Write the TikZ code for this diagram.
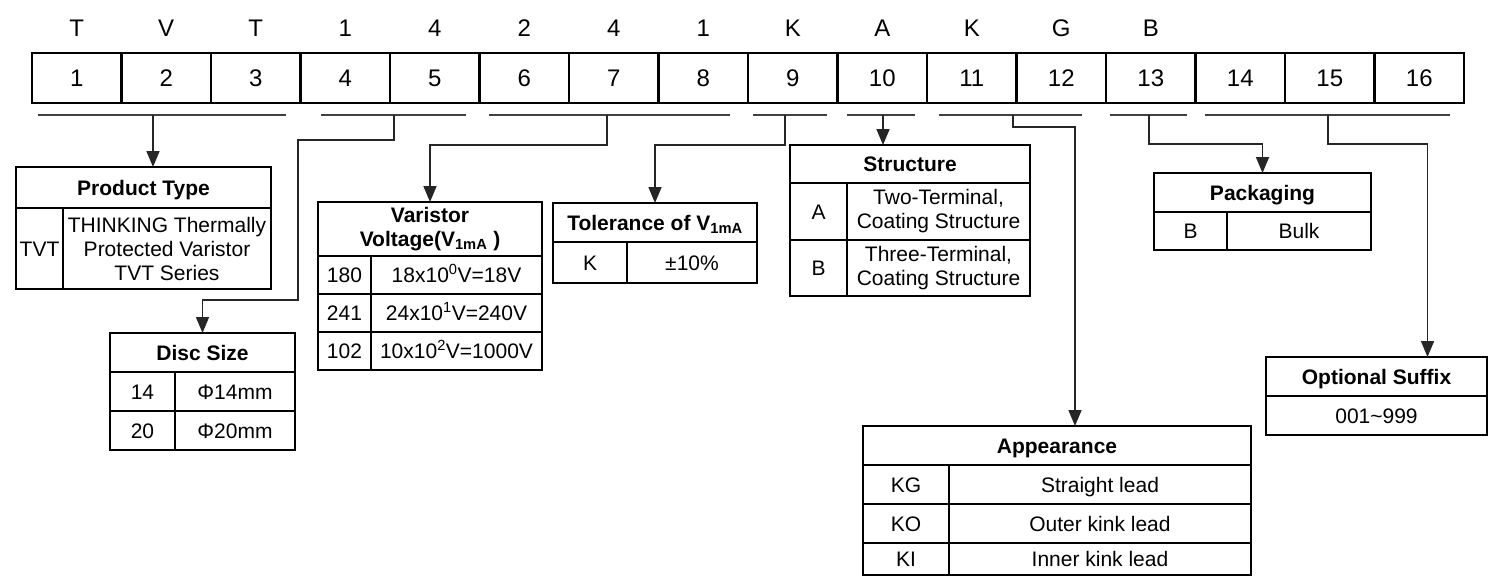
\documentclass[tikz,border=0pt]{standalone}
\usepackage{fontspec}
\setmainfont{Liberation Sans}
\usetikzlibrary{arrows.meta,positioning}
\begin{document}
\begin{tikzpicture}[x=1pt, y=-1pt, >={Triangle[length=16pt,width=13pt]}, box/.style={draw,line width=2.2pt,anchor=north west,inner sep=0pt,outer sep=0pt,align=center,font=\fontsize{21}{24}\selectfont}, cell/.style={box,text height=15pt,text depth=0pt}, head/.style={cell,font=\bfseries\fontsize{21}{24}\selectfont}, code/.style={cell,line width=2.4pt,minimum width=89.5pt,minimum height=50pt,text height=17pt,font=\fontsize{24}{28}\selectfont}, letter/.style={inner sep=0pt,text height=17pt,text depth=0pt,font=\fontsize{24}{28}\selectfont}, uline/.style={line width=2.6pt,black!75}, conn/.style={line width=1.7pt,black!85}]
\useasboundingbox (0,0) rectangle (1491,576);
\foreach \i in {1,...,16}
  \node[code] (c\i) at ({32+(\i-1)*89.5},53) {\i};
\foreach \l [count=\i] in {T,V,T,1,4,2,4,1,K,A,K,G,B}
  \node[letter] (l\i) at ({32+(\i-0.5)*89.5},28) {\l};
\draw[uline] (38,115) -- (286,115);
\draw[uline] (321,115) -- (466,115);
\draw[uline] (489,115) -- (730,115);
\draw[uline] (753,115) -- (827,115);
\draw[uline] (847,115) -- (915,115);
\draw[uline] (939,115) -- (1082,115);
\draw[uline] (1110,115) -- (1187,115);
\draw[uline] (1205,115) -- (1450,115);
\coordinate (u1) at (153,115);
\coordinate (u2) at (394,115);
\coordinate (u3) at (607,115);
\coordinate (u4) at (785,115);
\coordinate (u5) at (883,115);
\coordinate (u6) at (1013,115);
\coordinate (u7) at (1149,115);
\coordinate (u8) at (1328,115);
\node[head,minimum width=255pt,minimum height=41pt] (ptype) at (16,167) {Product Type};
\node[cell,minimum width=47pt,minimum height=81pt] (ptk) at (16,208) {TVT};
\node[box,minimum width=208pt,minimum height=81pt] (ptv) at (63,208) {THINKING Thermally\\Protected Varistor\\TVT Series};
\node[head,minimum width=185pt,minimum height=39pt] (disc) at (110,333) {Disc Size};
\node[cell,minimum width=65pt,minimum height=39pt] (d14) at (110,372) {14};
\node[cell,minimum width=120pt,minimum height=39pt] (d14v) at (175,372) {Φ14mm};
\node[cell,minimum width=65pt,minimum height=39pt] (d20) at (110,411) {20};
\node[cell,minimum width=120pt,minimum height=39pt] (d20v) at (175,411) {Φ20mm};
\node[box,minimum width=224pt,minimum height=54pt,font=\bfseries\fontsize{21}{24}\selectfont] (volt) at (318,202) {Varistor\\Voltage(V\textsubscript{1mA} )};
\node[cell,minimum width=53pt,minimum height=38pt] (v180) at (318,256) {180};
\node[cell,minimum width=171pt,minimum height=38pt] (v180v) at (371,256) {18x10\textsuperscript{0}V=18V};
\node[cell,minimum width=53pt,minimum height=38pt] (v241) at (318,294) {241};
\node[cell,minimum width=171pt,minimum height=38pt] (v241v) at (371,294) {24x10\textsuperscript{1}V=240V};
\node[cell,minimum width=53pt,minimum height=38pt] (v102) at (318,332) {102};
\node[cell,minimum width=171pt,minimum height=38pt] (v102v) at (371,332) {10x10\textsuperscript{2}V=1000V};
\node[head,minimum width=204pt,minimum height=39pt] (tol) at (553,203) {Tolerance of V\textsubscript{1mA}};
\node[cell,minimum width=74pt,minimum height=41pt] (tk) at (553,242) {K};
\node[cell,minimum width=130pt,minimum height=41pt] (tkv) at (627,242) {±10\%};
\node[head,minimum width=240pt,minimum height=38pt] (struct) at (790,145) {Structure};
\node[cell,minimum width=57pt,minimum height=57pt] (sa) at (790,183) {A};
\node[box,minimum width=183pt,minimum height=57pt] (sav) at (847,183) {Two-Terminal,\\Coating Structure};
\node[cell,minimum width=57pt,minimum height=56pt] (sb) at (790,240) {B};
\node[box,minimum width=183pt,minimum height=56pt] (sbv) at (847,240) {Three-Terminal,\\Coating Structure};
\node[head,minimum width=217pt,minimum height=39pt] (pack) at (1154,173) {Packaging};
\node[cell,minimum width=73pt,minimum height=38pt] (pb) at (1154,212) {B};
\node[cell,minimum width=144pt,minimum height=38pt] (pbv) at (1227,212) {Bulk};
\node[head,minimum width=221pt,minimum height=39pt] (suffix) at (1266,357) {Optional Suffix};
\node[cell,minimum width=221pt,minimum height=39pt] (sfx) at (1266,396) {001\textasciitilde 999};
\node[head,minimum width=388pt,minimum height=39pt] (app) at (863,426) {Appearance};
\node[cell,minimum width=86pt,minimum height=39pt] (akg) at (863,465) {KG};
\node[cell,minimum width=302pt,minimum height=39pt] (akgv) at (949,465) {Straight lead};
\node[cell,minimum width=86pt,minimum height=39pt] (ako) at (863,504) {KO};
\node[cell,minimum width=302pt,minimum height=39pt] (akov) at (949,504) {Outer kink lead};
\node[cell,minimum width=86pt,minimum height=32pt] (aki) at (863,543) {KI};
\node[cell,minimum width=302pt,minimum height=32pt] (akiv) at (949,543) {Inner kink lead};
\draw[conn,->] (u1) -- (u1 |- ptype.north);
\draw[conn,->] (u2) -- (394,140) -| (298,300) -| (disc.north);
\draw[conn,->] (u3) -- (607,145) -| (volt.north);
\draw[conn,->] (u4) -- (785,145) -| (tol.north);
\draw[conn,->] (u5) -- (u5 |- struct.north);
\draw[conn,->] (u6) -- (1013,127) -| ([xshift=18pt]app.north);
\draw[conn,->] (u7) -- (1149,144) -| (pack.north);
\draw[conn,->] (u8) -- (1328,144) -| ([xshift=51pt]suffix.north);
\end{tikzpicture}
\end{document}
